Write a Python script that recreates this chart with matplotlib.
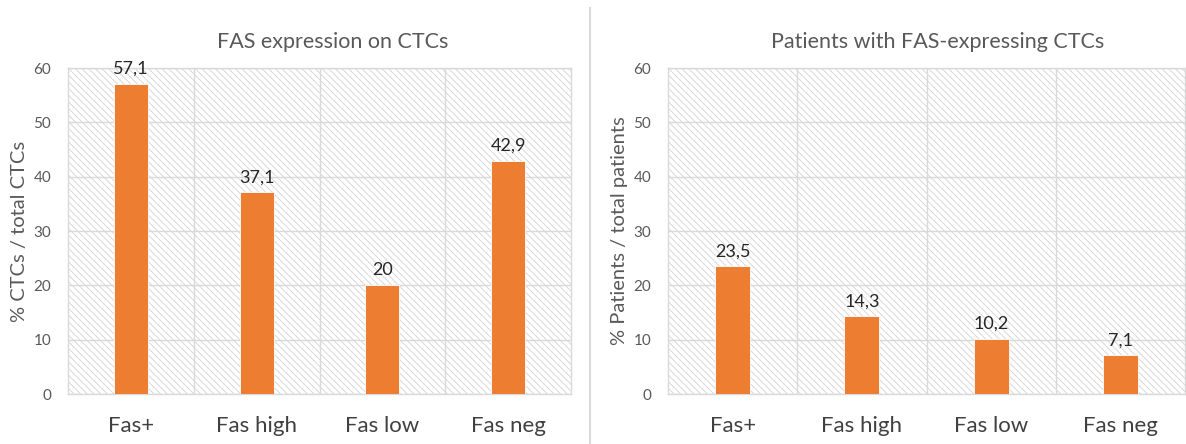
import matplotlib
matplotlib.use("Agg")
import matplotlib.pyplot as plt
from matplotlib.patches import Rectangle
from matplotlib.lines import Line2D

plt.rcParams['font.family'] = ['Lato', 'DejaVu Sans']
plt.rcParams['hatch.linewidth'] = 0.6

categories = ["Fas+", "Fas high", "Fas low", "Fas neg"]
ctc_values = [57.1, 37.1, 20, 42.9]
patient_values = [23.5, 14.3, 10.2, 7.1]
yticks = [0, 10, 20, 30, 40, 50, 60]

BAR = "#ED7D31"
GRID = "#d9d9d9"
HATCH = "#d2d2d2"
TXT = "#595959"

fig = plt.figure(figsize=(11.86, 4.44), dpi=100)
fig.patch.set_facecolor("white")


def fmt(v):
    s = f"{v:g}"
    return s.replace(".", ",")


def panel(rect, values, title, ylabel, title_x):
    ax = fig.add_axes(rect)
    ax.set_facecolor("white")
    n = len(categories)
    ax.set_xlim(-0.5, n - 0.5)
    ax.set_ylim(0, 60)
    # hatched plot-area background
    ax.add_patch(Rectangle((0, 0), 1, 1, transform=ax.transAxes,
                           facecolor="white", edgecolor=HATCH,
                           hatch="\\\\\\\\\\", linewidth=0, zorder=0))
    ax.set_yticks(yticks)
    ax.yaxis.grid(True, color=GRID, linewidth=1.0, zorder=1)
    for b in range(1, n):
        ax.axvline(b - 0.5, color=GRID, linewidth=1.0, zorder=1)
    for sp in ax.spines.values():
        sp.set_color(GRID)
        sp.set_linewidth(1.0)
    bars = ax.bar(range(n), values, width=0.27, color=BAR,
                  edgecolor="white", linewidth=0.6, zorder=3)
    for rect_, v in zip(bars, values):
        ax.annotate(fmt(v), (rect_.get_x() + rect_.get_width() / 2, v),
                    xytext=(0, 5), textcoords="offset points",
                    ha="center", va="bottom", fontsize=13,
                    color="#262626", zorder=4)
    ax.set_xticks(range(n))
    ax.set_xticklabels(categories, fontsize=16, color="#404040")
    ax.tick_params(axis="x", length=0, pad=16)
    ax.tick_params(axis="y", length=0, pad=12, labelsize=11, labelcolor=TXT)
    ax.set_ylabel(ylabel, fontsize=14.5, color=TXT, labelpad=4)
    fig.text(title_x, 1 - 42 / 444, title, ha="center", va="center",
             fontsize=15.5, color=TXT)
    return ax


panel([68 / 1186, 1 - 394 / 444, 503 / 1186, 326 / 444],
      ctc_values, "FAS expression on CTCs", "% CTCs / total CTCs", 333 / 1186)
panel([668 / 1186, 1 - 394 / 444, 517 / 1186, 326 / 444],
      patient_values, "Patients with FAS-expressing CTCs",
      "% Patients / total patients", 938 / 1186)

# separator between the two panels
fig.add_artist(Line2D([590 / 1186, 590 / 1186], [0, 1 - 8 / 444],
                      transform=fig.transFigure, color="#d9d9d9", linewidth=1.5))

fig.savefig("out.png", dpi=100, facecolor="white")
